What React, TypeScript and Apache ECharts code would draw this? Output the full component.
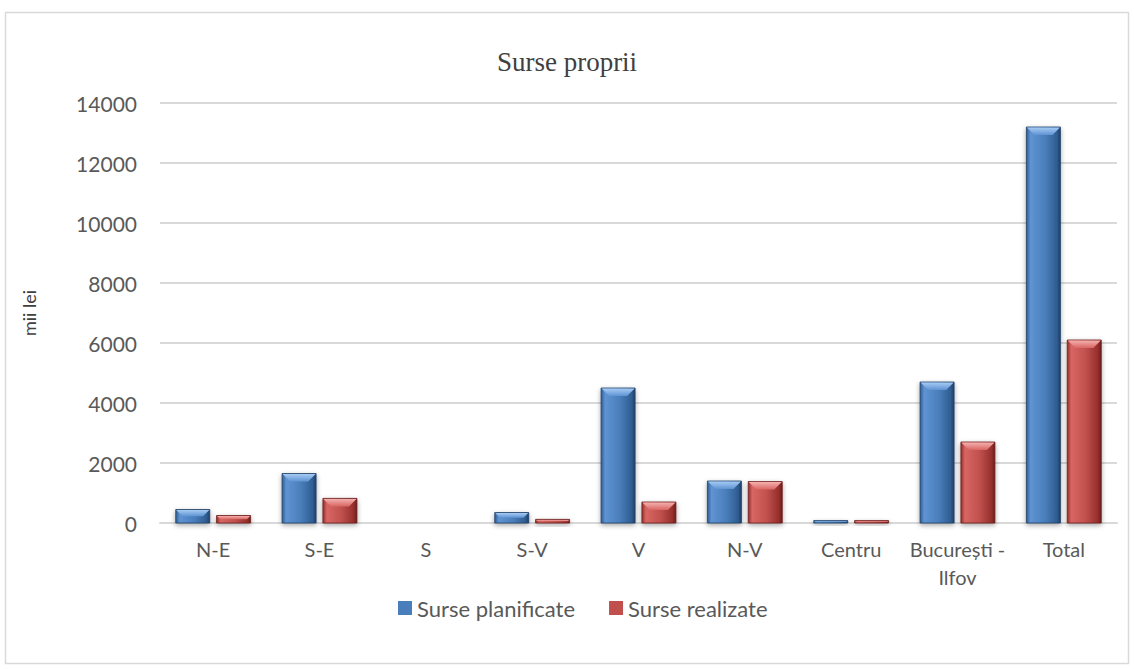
import React, { useEffect, useRef } from "react";
import * as echarts from "echarts";

const categories = ["N-E", "S-E", "S", "S-V", "V", "N-V", "Centru", "București -\nIlfov", "Total"];
const planned = [450, 1650, 0, 350, 4500, 1400, 80, 4700, 13200];
const realized = [250, 820, 0, 120, 700, 1380, 80, 2700, 6100];
const seriesNames = ["Surse planificate", "Surse realizate"];
const yTicks = { min: 0, max: 14000, interval: 2000 };

const FONT = "Lato";

type Pal = { base: string; dark: string; light: string; top: string; edge: string };
const bluePal: Pal = { base: "#4a7ebb", dark: "#2f5d91", light: "#5f93d3", top: "#a6cbf3", edge: "#1f3f66" };
const redPal: Pal = { base: "#c0504d", dark: "#962f2d", light: "#d86663", top: "#f4b0ae", edge: "#6b1e1c" };

function makeRender(sign: number, pal: Pal) {
  return (params: any, api: any) => {
    const idx = api.value(0);
    const val = api.value(1);
    const top = api.coord([idx, val]);
    const base = api.coord([idx, 0]);
    const band = api.size([1, 0])[0];
    const w = band * 0.32;
    const gap = w * 0.2;
    const cx = top[0] + sign * (w / 2 + gap / 2);
    const x0 = cx - w / 2;
    const y0 = top[1];
    const h = base[1] - top[1];
    if (h < 0.5) return { type: "group", children: [] };
    const b = Math.min(8, h / 2, w / 4);
    const grad = new echarts.graphic.LinearGradient(0, 0, 1, 0, [
      { offset: 0, color: pal.dark },
      { offset: 0.12, color: pal.light },
      { offset: 0.55, color: pal.base },
      { offset: 0.9, color: pal.dark },
      { offset: 1, color: pal.edge },
    ]);
    const topGrad = new echarts.graphic.LinearGradient(0, 0, 0, 1, [
      { offset: 0, color: pal.top },
      { offset: 1, color: pal.light },
    ]);
    return {
      type: "group",
      children: [
        {
          type: "rect",
          shape: { x: x0, y: y0, width: w, height: h },
          style: {
            fill: grad,
            stroke: pal.edge,
            lineWidth: 0.8,
            shadowBlur: 5,
            shadowColor: "rgba(0,0,0,0.35)",
            shadowOffsetY: 2,
          },
        },
        {
          type: "polygon",
          shape: {
            points: [
              [x0 + 0.5, y0 + 0.5],
              [x0 + w - 0.5, y0 + 0.5],
              [x0 + w - b, y0 + b],
              [x0 + b, y0 + b],
            ],
          },
          style: { fill: topGrad },
        },
      ],
    };
  };
}

export default function App() {
  const ref = useRef<HTMLDivElement>(null);
  useEffect(() => {
    document.body.style.margin = "0";
    const chart = echarts.init(ref.current!, null, { renderer: "svg" });
    chart.setOption({
      animation: false,
      backgroundColor: "#ffffff",
      textStyle: { fontFamily: FONT },
      title: {
        text: "Surse proprii",
        left: "center",
        top: 43,
        textStyle: { fontFamily: "Liberation Serif", fontSize: 27, fontWeight: "normal", color: "#404040" },
      },
      graphic: [
        {
          type: "rect",
          shape: { x: 5.5, y: 12.5, width: 1123, height: 651 },
          style: { fill: "none", stroke: "#d9d9d9", lineWidth: 1.5 },
          silent: true,
        },
      ],
      legend: {
        bottom: 45,
        left: 393,
        itemWidth: 14,
        itemHeight: 14,
        itemGap: 34,
        textStyle: { fontFamily: FONT, fontSize: 22, color: "#595959" },
        data: [
          { name: seriesNames[0], icon: "rect", itemStyle: { color: bluePal.base } },
          { name: seriesNames[1], icon: "rect", itemStyle: { color: redPal.base } },
        ],
      },
      grid: { left: 160, right: 17, top: 103, bottom: 146 },
      xAxis: {
        type: "category",
        data: categories,
        axisLine: { show: true, lineStyle: { color: "#d9d9d9", width: 2 } },
        axisTick: { show: false },
        axisLabel: { fontFamily: FONT, fontSize: 20, color: "#595959", margin: 12, lineHeight: 28, interval: 0 },
      },
      yAxis: {
        type: "value",
        min: yTicks.min,
        max: yTicks.max,
        interval: yTicks.interval,
        name: "mii lei",
        nameLocation: "middle",
        nameGap: 122,
        nameTextStyle: { fontFamily: FONT, fontSize: 18, color: "#404040" },
        axisLine: { show: false },
        axisTick: { show: false },
        axisLabel: { fontFamily: FONT, fontSize: 21, color: "#595959", margin: 23, formatter: (v: number) => String(v) },
        splitLine: { lineStyle: { color: "#d9d9d9", width: 2 } },
      },
      series: [
        {
          name: seriesNames[0],
          type: "custom",
          itemStyle: { color: bluePal.base },
          renderItem: makeRender(-1, bluePal),
          data: planned.map((v, i) => [i, v]),
          encode: { x: 0, y: 1 },
        },
        {
          name: seriesNames[1],
          type: "custom",
          itemStyle: { color: redPal.base },
          renderItem: makeRender(1, redPal),
          data: realized.map((v, i) => [i, v]),
          encode: { x: 0, y: 1 },
        },
      ],
    });
    return () => chart.dispose();
  }, []);
  return <div ref={ref} style={{ position: "absolute", left: 0, top: 0, width: 1134, height: 669 }} />;
}
